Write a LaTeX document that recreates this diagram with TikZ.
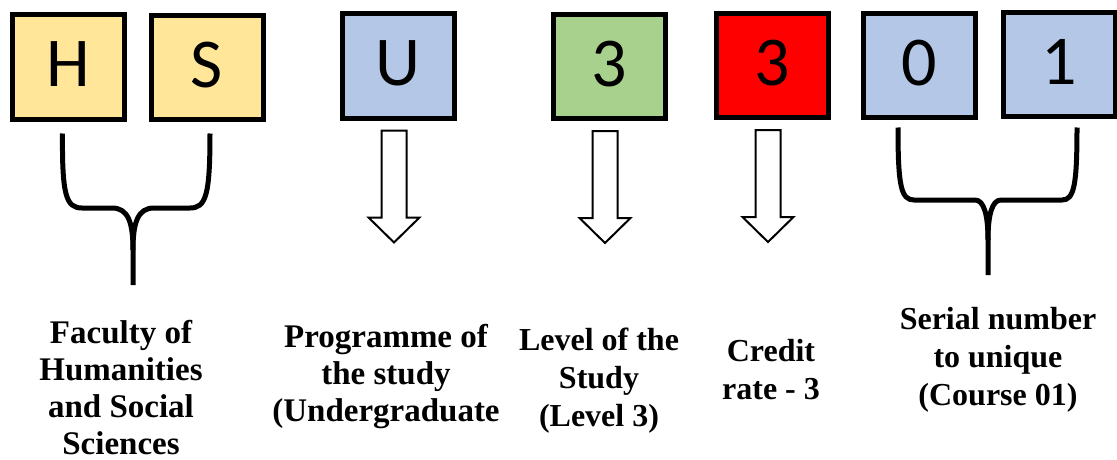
\documentclass[tikz,border=0pt]{standalone}
\usepackage{fontspec}
\usetikzlibrary{calc}
\newfontfamily\letterfont{Carlito}
\newfontfamily\labelfont{Liberation Serif}
\definecolor{boxyellow}{HTML}{FFE699}
\definecolor{boxblue}{HTML}{B4C7E7}
\definecolor{boxgreen}{HTML}{A9D18E}
\definecolor{boxred}{HTML}{FF0000}
\tikzset{
  codebox/.style={draw=black, line width=5pt, minimum width=112pt, minimum height=104pt,
    inner sep=0pt, text depth=6pt, font=\letterfont\fontsize{70}{84}\selectfont},
  brace/.style={line width=5pt},
  hollow/.style={draw=black, fill=white, line width=2pt, line join=miter},
  biglabel/.style={align=center, font=\labelfont\bfseries\fontsize{33}{37}\selectfont},
  smalllabel/.style={align=center, font=\labelfont\bfseries\fontsize{32}{38}\selectfont}
}
\begin{document}
\begin{tikzpicture}[x=1pt, y=-1pt]
    \useasboundingbox (0,0) rectangle (1117,460);
    % code letters
    \node[codebox, fill=boxyellow] (h) at (68.5,67) {H};
    \node[codebox, fill=boxyellow] (s) at (207,67.5) {S};
    \node[codebox, fill=boxblue] (u) at (398,66) {U};
    \node[codebox, fill=boxgreen] (lv) at (609,66.5) {3};
    \node[codebox, fill=boxred] (cr) at (772,65.5) {3};
    \node[codebox, fill=boxblue] (n0) at (919,65.5) {0};
    \node[codebox, fill=boxblue] (n1) at (1059.5,64.5) {1};
    % labels
    \node[biglabel] (fac) at (121,388) {Faculty of\\Humanities\\and Social\\Sciences};
    \node[biglabel] (prog) at (386,377) {Programme of\\the study\\(Undergraduate};
    \node[smalllabel] (lvl) at (599,381) {Level of the\\Study\\(Level 3)};
    \node[smalllabel] (cred) at (771,370) {Credit\\rate - 3};
    \node[smalllabel] (ser) at (998,360) {Serial number\\to unique\\(Course 01)};
    % braces
    \coordinate (hstip) at (133,285);
    \draw[brace] ($(h.south)+(-6,12)$) .. controls (62,195) and (66,208) .. (82,208) -- (112,208)
        .. controls (128,208) and (133,222) .. (133,250) -- (hstip);
    \draw[brace] ($(s.south)+(3,11.5)$) .. controls (210,195) and (206,208) .. (190,208) -- (154,208)
        .. controls (138,208) and (133,222) .. (133,250);
    \coordinate (numtip) at (988,275);
    \draw[brace] ($(n0.south)+(-21,7.5)$) .. controls (898,186) and (901,200) .. (914,200) -- (975,200)
        .. controls (984,200) and (988,215) .. (988,240) -- (numtip);
    \draw[brace] ($(n1.south)+(17.5,8.5)$) .. controls (1077,186) and (1074,200) .. (1062,200) -- (1001,200)
        .. controls (992,200) and (988,215) .. (988,240);
    % hollow arrows
    \foreach \b in {u, lv, cr}
    {\draw[hollow] ($(\b.south)+(-16.5,10)$) -- ++(0,87) -- ++(-13,0) -- ++(25.5,25)
        -- ++(25.5,-25) -- ++(-13,0) -- ++(0,-87) -- cycle;}
\end{tikzpicture}
\end{document}
